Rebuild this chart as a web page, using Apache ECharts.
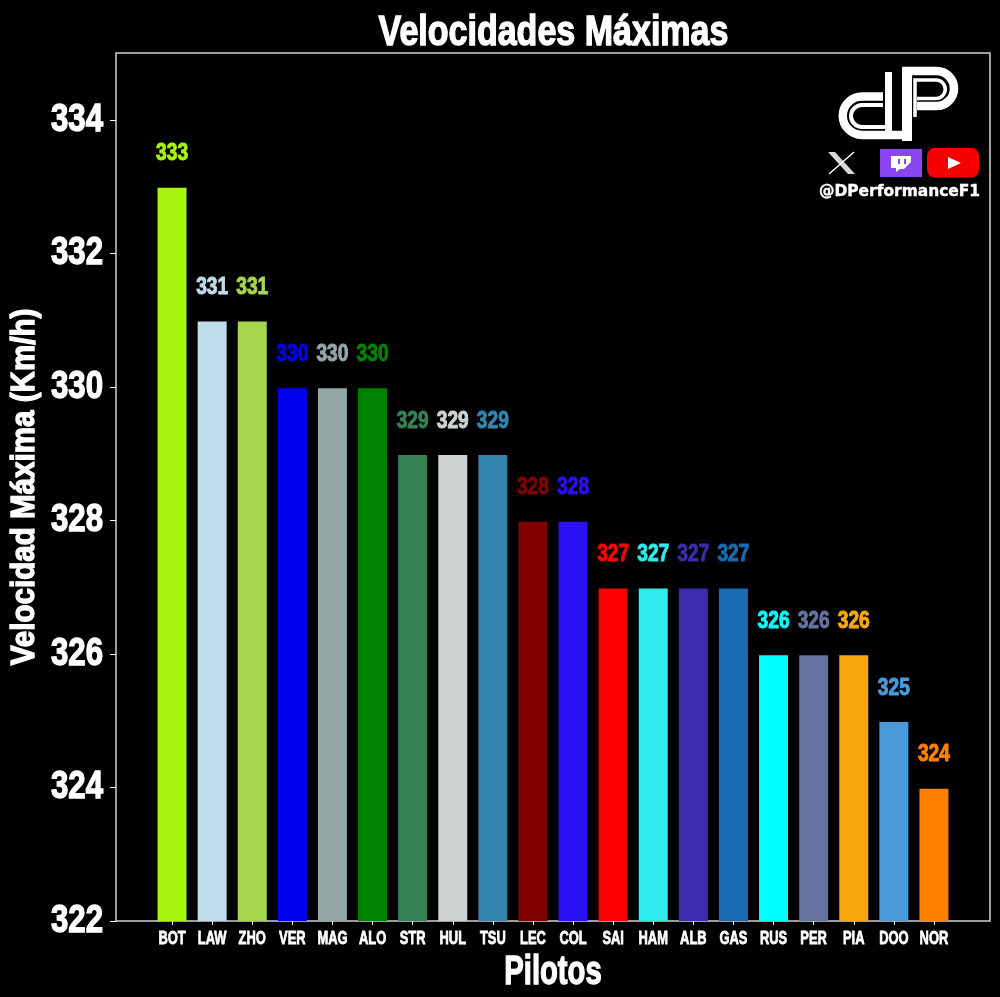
<!DOCTYPE html>
<html><head><meta charset="utf-8">
<style>html,body{margin:0;padding:0;background:#000}#c{width:1000px;height:997px}</style>
<script src="https://cdn.jsdelivr.net/npm/echarts@6/dist/echarts.min.js"></script>
</head><body><div id="c"></div>
<script>
var drivers=['BOT','LAW','ZHO','VER','MAG','ALO','STR','HUL','TSU','LEC','COL','SAI','HAM','ALB','GAS','RUS','PER','PIA','DOO','NOR'];
var speeds=[333,331,331,330,330,330,329,329,329,328,328,327,327,327,327,326,326,326,325,324];
var colors=['#a5f50d','#bfdcea','#a6d64c','#0000f0','#94a6a6','#008000','#358055','#cdd2d2','#3385ad','#800000','#2b10f5','#ff0000','#30ebeb','#3a2cad','#176bb0','#00ffff','#65719f','#f7a80f','#4a9ada','#ff8000'];
var yTicks=[322,324,326,328,330,332,334];
var titleText='Velocidades Máximas', xName='Pilotos', yName='Velocidad Máxima (Km/h)', handle='@DPerformanceF1';
var font='"Liberation Sans",sans-serif';
function abs(d,w,c){return [d,{style:{fill:'none',stroke:c||'#fff',lineWidth:w}}];}
function solid(d,c){return [d,{style:{fill:c,stroke:'none'}}];}
var twitchPurple='#8a45f2';
var logoBoxes=[
 {type:'rect',silent:true,z:5,shape:{x:880,y:149,width:42,height:28},style:{fill:twitchPurple}},
 {type:'rect',silent:true,z:5,shape:{x:927,y:148,width:52,height:29.5,r:8},style:{fill:'#f70000'}},
 {type:'text',silent:true,z:5,x:819,y:184.5,style:{text:handle,fill:'#fff',font:'bold 15px "DejaVu Sans"',stroke:'#fff',lineWidth:0.4}}
];
var logoPaths=[
 abs('M883 96.5 L862 96.5 A19.25 19.25 0 0 0 862 135 L912 135',8.5),
 abs('M883 105 L862 105 A11 11 0 0 0 862 127 L888 127',4),
 abs('M888.5 131 L888.5 72',7),
 abs('M907 139 L907 71 L936.5 71 A17.5 17.5 0 0 1 936.5 106 L917 106',8.5),
 solid('M902 141 L912 141 L912 67 L902 67 Z','#fff'),
 abs('M915 117 L915 80 L936 80 A9.25 9.25 0 0 1 936 98.5 L917 98.5',3.5),
 solid('M828 152 L835 152 L855 174 L848 174 Z','#d8d8d8'),
 abs('M854 152 L829 174',1.4),
 solid('M891 156 L891 168 L896 168 L896 172 L900 169 L904 169 L911 162 L911 156 Z','#fff'),
 solid('M898 159 L900 159 L900 164 L898 164 Z M904 159 L906 159 L906 164 L904 164 Z',twitchPurple),
 solid('M948 157 L961 163 L948 169 Z','#fff')
];
var chart=echarts.init(document.getElementById('c'),null,{renderer:'canvas'});
chart.setOption({
 backgroundColor:'#000',animation:false,
 title:{text:titleText,left:548.5,top:7,textAlign:'center',textStyle:{color:'#fff',fontFamily:font,fontSize:42,fontWeight:'bold',textBorderColor:'#fff',textBorderWidth:1.4}},
 grid:[
  {outerBoundsMode:'none',left:116,width:874,top:53,height:868,show:true,borderColor:'#d0d0d0',borderWidth:1.5,backgroundColor:'#000',z:0},
  {outerBoundsMode:'none',left:152,width:802,top:53,height:868}
 ],
 xAxis:[
  {gridIndex:0,type:'value',show:false},
  {gridIndex:1,type:'category',data:drivers,name:xName,nameLocation:'middle',nameGap:32,nameMoveOverlap:false,
   nameTextStyle:{color:'#fff',fontFamily:font,fontWeight:'bold',fontSize:40,textBorderColor:'#fff',textBorderWidth:1.4},
   axisLine:{show:false},axisTick:{show:true,alignWithLabel:true,length:4,lineStyle:{color:'#fff'}},
   axisLabel:{color:'#fff',fontFamily:font,fontWeight:'bold',fontSize:19,margin:8,interval:0,textBorderColor:'#fff',textBorderWidth:0.8},
   splitLine:{show:false}}
 ],
 yAxis:[
  {gridIndex:0,type:'value',min:322,max:335,interval:2,name:yName,nameLocation:'middle',nameGap:74,nameMoveOverlap:false,
   nameTextStyle:{color:'#fff',fontFamily:font,fontWeight:'bold',fontSize:34,textBorderColor:'#fff',textBorderWidth:1.4},
   axisLine:{show:false},axisTick:{show:true,length:6,lineStyle:{color:'#fff'},customValues:yTicks},
   axisLabel:{color:'#fff',fontFamily:font,fontWeight:'bold',fontSize:39,margin:13,customValues:yTicks,textBorderColor:'#fff',textBorderWidth:1.4},
   splitLine:{show:false}},
  {gridIndex:1,type:'value',min:322.02,max:335.02,show:false}
 ],
 series:[{type:'bar',xAxisIndex:1,yAxisIndex:1,barWidth:29,
  data:speeds.map(function(v,i){return {value:v,itemStyle:{color:colors[i]},label:{color:colors[i],textBorderColor:colors[i],textBorderWidth:1}};}),
  label:{show:true,position:'top',distance:22,fontFamily:font,fontWeight:'bold',fontSize:24}}],
 graphic:{elements:logoBoxes}
});
var zr=chart.getZr();
logoPaths.forEach(function(p){
 var o=p[1]; o.silent=true; o.z=6;
 if(o.style.fill==='none')o.style.fill=null;
 if(o.style.stroke==='none')o.style.stroke=null;
 zr.add(echarts.graphic.makePath(p[0],o));
});
// condense the type horizontally, since no Impact-like face is installed
function widthFor(t){
 if(t===titleText)return 0.81; if(t===xName)return 0.73; if(t===yName)return 0.87;
 if(t===handle)return 1.03; if(drivers.indexOf(t)>=0)return 0.68; return 0.8;
}
function squeeze(el){
 if(el&&el.type==='text'&&el.style&&el.style.text!=null){
  el.scaleX=widthFor(String(el.style.text)); el.markRedraw&&el.markRedraw();
 }
}
zr.storage.traverse(function(el){
 squeeze(el);
 if(el.getTextContent)squeeze(el.getTextContent());
});
zr.refreshImmediately&&zr.refreshImmediately();
</script></body></html>
